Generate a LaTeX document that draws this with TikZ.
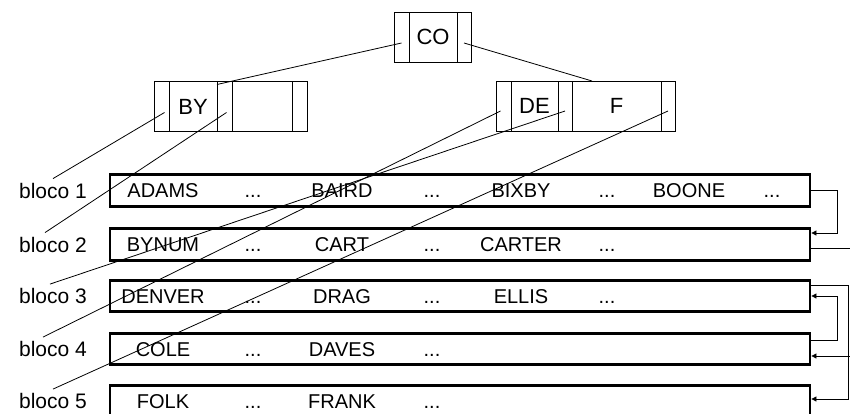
\documentclass[tikz,border=0pt]{standalone}
\usepackage{fontspec}
\setmainfont{Liberation Sans}
\usepackage{tikz}
\usetikzlibrary{arrows.meta}
\usetikzlibrary{calc}
\usetikzlibrary{positioning}

\newcommand{\reti}{...}

\begin{document}
\begin{tikzpicture}[x=1pt,y=-1pt,
  cell/.style={draw,line width=0.8pt,minimum height=50pt,inner sep=0pt,outer sep=0pt,font=\fontsize{22}{26}\selectfont},
  ptr/.style={cell,minimum width=15pt},
  bloco/.style={draw,line width=2.8pt,minimum width=700pt,minimum height=31.5pt,inner sep=0pt},
  rotulo/.style={font=\fontsize{21}{25}\selectfont,inner sep=4pt},
  chave/.style={font=\fontsize{20}{24}\selectfont,inner sep=0pt,text height=14.4pt,text depth=0pt},
  ponteiro/.style={line width=0.8pt},
  elo/.style={line width=0.8pt,-{Triangle[length=5pt,width=5pt]}}]
\useasboundingbox (0,0) rectangle (850,414);
\clip (0,0) rectangle (850,414);

% raiz
\node[ptr] (co0) at (401.5,37) {};
\node[cell,minimum width=48pt,right=0pt of co0] (co) {CO};
\node[ptr,minimum width=14pt,right=0pt of co] (co1) {};

% segundo nivel
\node[ptr] (by0) at (161.5,106.5) {};
\node[cell,minimum width=48pt,right=0pt of by0] (by) {BY};
\node[ptr,right=0pt of by] (by1) {};
\node[cell,minimum width=60pt,right=0pt of by1] (byv) {};
\node[ptr,right=0pt of byv] (by2) {};

\node[ptr] (de0) at (503.5,106) {};
\node[cell,minimum width=47pt,right=0pt of de0] (de) {DE};
\node[ptr,minimum width=14pt,right=0pt of de] (de1) {};
\node[cell,minimum width=89pt,right=0pt of de1] (f) {F};
\node[ptr,minimum width=14pt,right=0pt of f] (de2) {};

% blocos
\def\colx{{163,253,342,432,521,607,689,772}}
\foreach \i/\y/\lista in {1/190.5/{ADAMS,\reti,BAIRD,\reti,BIXBY,\reti,BOONE,\reti},
                          2/244.5/{BYNUM,\reti,CART,\reti,CARTER,\reti},
                          3/296/{DENVER,\reti,DRAG,\reti,ELLIS,\reti},
                          4/349/{COLE,\reti,DAVES,\reti},
                          5/401/{FOLK,\reti,FRANK,\reti}} {
  \node[rotulo] (b\i) at (53,\y) {bloco \i};
  \node[bloco] (r\i) at (460,\y) {};
  \foreach \k [count=\c] in \lista {
    \pgfmathsetmacro\xx{\colx[\c-1]}
    \node[chave] (k\i-\c) at (\xx,\y) {\k};
  }
}

% ponteiros da arvore
\draw[ponteiro] ([yshift=-6pt]co0.center) -- ([yshift=-3pt]by1.north west);
\draw[ponteiro] ([yshift=-6pt]co1.center) -- ([xshift=20pt]f.north west);
\draw[ponteiro] ([shift={(3pt,-6pt)}]by0.center) -- (b1.north);
\draw[ponteiro] ([shift={(2pt,-6pt)}]by1.center) -- ([xshift=-8pt]b2.north);
\draw[ponteiro] ([shift={(-3pt,-5pt)}]de0.center) -- ([xshift=-10pt]b4.north);
\draw[ponteiro] ([yshift=-5pt]de1.center) -- ([xshift=-3pt]b3.north);
\draw[ponteiro] ([yshift=-5pt]de2.center) -- (b5.north);

% encadeamento dos blocos
\coordinate (sai) at (852,248);
\coordinate (entra) at (852,356);
\draw[elo] (r1.east) -- ++(26,0) |- ([yshift=11.5pt]r2.east);
\draw[ponteiro] (r2.east |- sai) -- (sai);
\draw[elo] ([yshift=11pt]r3.east) -- ++(37,0) |- ([yshift=2pt]r5.east);
\draw[elo] ([yshift=9pt]r4.east) -- ++(26,0) |- (r3.east);
\draw[elo] (entra) -- (r4.east |- entra);
\end{tikzpicture}
\end{document}
